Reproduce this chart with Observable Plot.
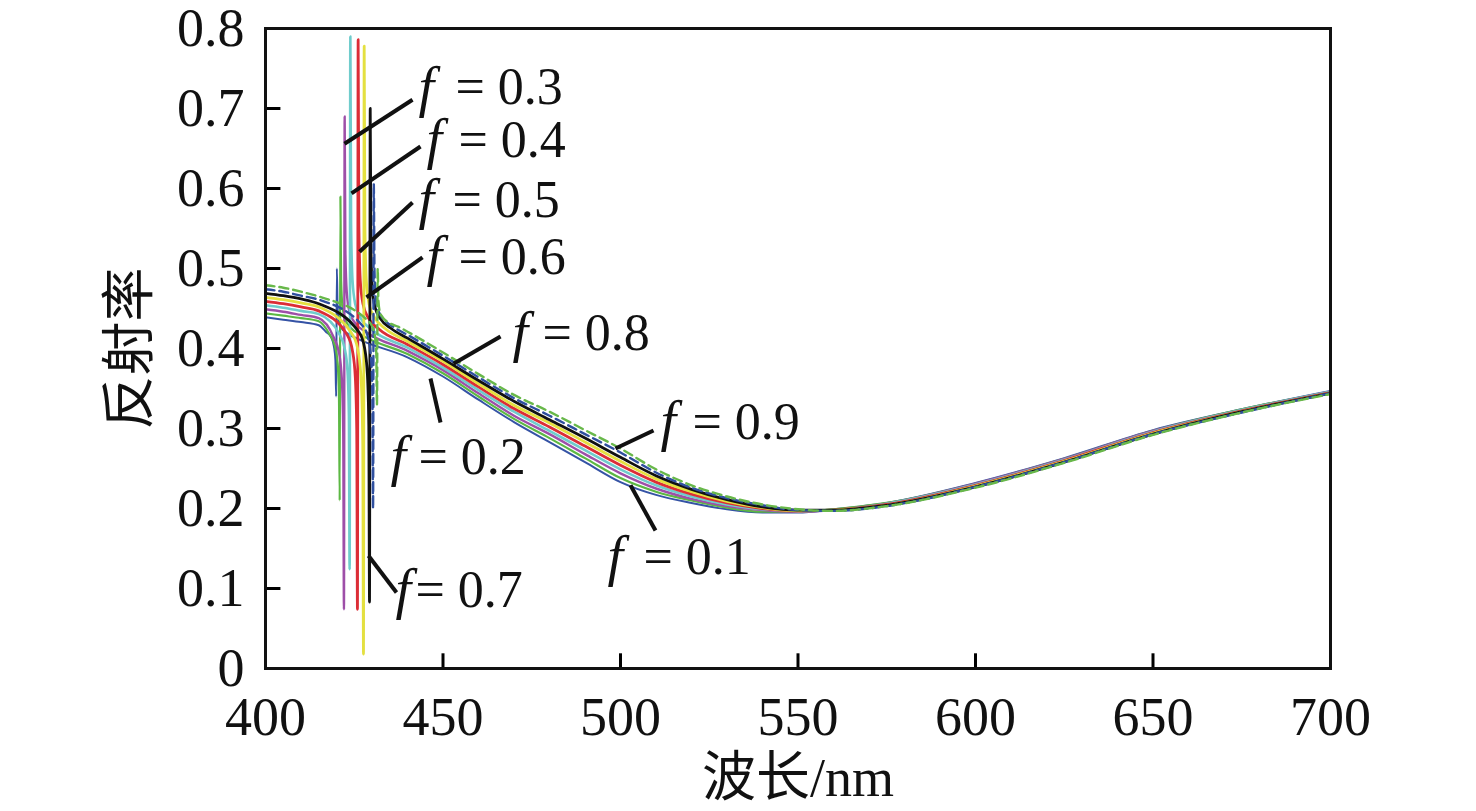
<!DOCTYPE html>
<html>
<head>
<meta charset="utf-8">
<script src="https://cdn.jsdelivr.net/npm/d3@7"></script>
<script src="https://cdn.jsdelivr.net/npm/@observablehq/plot@0.6"></script>
<style>
  html, body { margin: 0; padding: 0; background: #fff; }
  #chart { width: 1476px; height: 811px; }
</style>
</head>
<body>
<div id="chart"></div>
<script>
// ---------- data ----------
const fValues = ["0.1", "0.2", "0.3", "0.4", "0.5", "0.6", "0.7", "0.8", "0.9"];

// smooth part of each reflectance curve (wavelength grid, nm)
const wavelengths = [400, 405, 410, 415, 440, 450, 460, 470, 480, 490, 500, 510, 520, 530, 540, 550, 560, 575, 600, 625, 650, 675, 700];
const refl_f01 = [0.439,0.436,0.433,0.429,0.389,0.365,0.336,0.308,0.283,0.258,0.233,0.217,0.207,0.199,0.195,0.195,0.199,0.207,0.232,0.263,0.298,0.324,0.347];
const refl_f02 = [0.444,0.441,0.438,0.434,0.393,0.369,0.340,0.312,0.288,0.263,0.238,0.221,0.210,0.201,0.196,0.196,0.199,0.207,0.231,0.262,0.297,0.324,0.346];
const refl_f03 = [0.449,0.446,0.442,0.438,0.397,0.373,0.344,0.316,0.293,0.268,0.244,0.225,0.212,0.203,0.198,0.196,0.198,0.206,0.231,0.262,0.297,0.323,0.346];
const refl_f04 = [0.454,0.451,0.447,0.443,0.401,0.376,0.348,0.321,0.297,0.273,0.249,0.229,0.215,0.205,0.199,0.197,0.198,0.206,0.230,0.261,0.296,0.323,0.346];
const refl_f05 = [0.459,0.456,0.452,0.447,0.405,0.380,0.352,0.325,0.302,0.278,0.254,0.233,0.218,0.207,0.200,0.197,0.198,0.205,0.229,0.260,0.295,0.322,0.345];
const refl_f06 = [0.464,0.461,0.457,0.452,0.409,0.384,0.356,0.329,0.307,0.283,0.259,0.237,0.221,0.209,0.201,0.197,0.198,0.204,0.228,0.259,0.294,0.321,0.344];
const refl_f07 = [0.469,0.466,0.462,0.456,0.413,0.387,0.360,0.334,0.311,0.288,0.264,0.241,0.224,0.211,0.202,0.198,0.198,0.204,0.227,0.258,0.293,0.321,0.344];
const refl_f08 = [0.474,0.471,0.466,0.461,0.417,0.391,0.364,0.338,0.316,0.293,0.270,0.245,0.226,0.213,0.204,0.198,0.197,0.203,0.227,0.258,0.293,0.320,0.344];
const refl_f09 = [0.479,0.476,0.471,0.465,0.421,0.395,0.368,0.342,0.321,0.298,0.275,0.249,0.229,0.215,0.205,0.199,0.197,0.203,0.226,0.257,0.292,0.320,0.343];

// resonance region of each curve (wavelength, reflectance)
const resW_f01 = [417.0,418.5,419.3,419.7,419.9,420.1,420.3,420.7,421.5,423.0,426.0];
const resR_f01 = [0.421,0.414,0.402,0.385,0.340,0.500,0.452,0.434,0.425,0.419,0.412];
const resW_f02 = [418.0,419.5,420.3,420.7,420.9,421.1,421.3,421.7,422.5,424.0,427.0];
const resR_f02 = [0.418,0.404,0.382,0.340,0.210,0.590,0.485,0.452,0.436,0.426,0.417];
const resW_f03 = [419.2,420.7,421.5,421.9,422.1,422.3,422.5,422.9,423.7,425.2,428.2];
const resR_f03 = [0.414,0.395,0.362,0.295,0.074,0.690,0.522,0.470,0.445,0.432,0.421];
const resW_f04 = [420.8,422.3,423.1,423.5,423.7,423.9,424.1,424.5,425.3,426.8,429.8];
const resR_f04 = [0.418,0.400,0.372,0.315,0.124,0.790,0.556,0.486,0.455,0.438,0.424];
const resW_f05 = [423.0,424.5,425.3,425.7,425.9,426.1,426.3,426.7,427.5,429.0,432.0];
const resR_f05 = [0.417,0.397,0.364,0.298,0.074,0.786,0.555,0.485,0.455,0.438,0.424];
const resW_f06 = [424.7,426.2,427.0,427.4,427.6,427.8,428.0,428.4,429.2,430.7,433.7];
const resR_f06 = [0.416,0.394,0.356,0.280,0.018,0.778,0.553,0.485,0.455,0.439,0.425];
const resW_f07 = [426.4,427.9,428.7,429.1,429.3,429.5,429.7,430.1,430.9,432.4,435.4];
const resR_f07 = [0.420,0.401,0.368,0.303,0.083,0.700,0.528,0.474,0.451,0.437,0.425];
const resW_f08 = [427.4,428.9,429.7,430.1,430.3,430.5,430.7,431.1,431.9,433.4,436.4];
const resR_f08 = [0.428,0.413,0.390,0.345,0.200,0.606,0.497,0.462,0.446,0.436,0.426];
const resW_f09 = [428.5,430.0,430.8,431.2,431.4,431.6,431.8,432.2,433.0,434.5,437.5];
const resR_f09 = [0.436,0.428,0.416,0.395,0.330,0.500,0.460,0.446,0.439,0.433,0.427];

// axis ticks
const xTicks = [400, 450, 500, 550, 600, 650, 700];
const yTicks = [0, 0.1, 0.2, 0.3, 0.4, 0.5, 0.6, 0.7, 0.8];
const yTickLabels = ["0", "0.1", "0.2", "0.3", "0.4", "0.5", "0.6", "0.7", "0.8"];
const xLabel = "波长/nm";
const yLabel = "反射率";

// annotation labels: f text anchor, "= value" anchor, leader line ends (data units)
const labelF     = ["0.1","0.2","0.3","0.4","0.5","0.6","0.7","0.8","0.9"];
const labelFx    = [496.34,435.21,443.10,445.35,443.10,445.35,436.62,469.58,511.27];
const labelEqx   = [506.48,443.10,453.52,454.37,452.68,454.37,442.25,478.03,520.28];
const labelY     = [0.139,0.264,0.726,0.660,0.585,0.514,0.0975,0.419,0.3075];
const leadX1 = [509.86,449.30,441.41,443.66,441.41,444.23,436.90,466.20,509.30];
const leadY1 = [0.1725,0.3075,0.711,0.6525,0.5825,0.514,0.095,0.415,0.2975];
const leadX2 = [502.82,446.48,422.25,424.23,426.48,428.45,429.01,452.96,498.59];
const leadY2 = [0.229,0.3625,0.656,0.594,0.521,0.464,0.141,0.381,0.275];

// ---------- build tables ----------
const smooth = [refl_f01,refl_f02,refl_f03,refl_f04,refl_f05,refl_f06,refl_f07,refl_f08,refl_f09];
const resW = [resW_f01,resW_f02,resW_f03,resW_f04,resW_f05,resW_f06,resW_f07,resW_f08,resW_f09];
const resR = [resR_f01,resR_f02,resR_f03,resR_f04,resR_f05,resR_f06,resR_f07,resR_f08,resR_f09];

const seriesData = fValues.map((f, i) => {
  const pts = wavelengths.map((w, j) => ({w, r: smooth[i][j], f}))
    .concat(resW[i].map((w, j) => ({w, r: resR[i][j], f})));
  pts.sort((a, b) => a.w - b.w);
  return pts;
});

const styles = [
  {stroke: "#3553a5", strokeWidth: 2.0},
  {stroke: "#5cb843", strokeWidth: 2.2},
  {stroke: "#9e4fa8", strokeWidth: 2.4},
  {stroke: "#6fcccc", strokeWidth: 2.6},
  {stroke: "#dc2d36", strokeWidth: 2.8},
  {stroke: "#e4e040", strokeWidth: 2.8},
  {stroke: "#111111", strokeWidth: 2.8},
  {stroke: "#2f4f9f", strokeWidth: 2.4, strokeDasharray: "9,5"},
  {stroke: "#68b84a", strokeWidth: 2.4, strokeDasharray: "9,5"}
];

const labels = labelF.map((f, i) => ({
  f, fx: labelFx[i], ex: labelEqx[i], y: labelY[i],
  x1: leadX1[i], y1: leadY1[i], x2: leadX2[i], y2: leadY2[i]
}));

const innerYTicks = yTicks.filter(v => v > 0 && v < 0.8);
const innerXTicks = xTicks.filter(v => v > 400 && v < 700);

const serif = "'Liberation Serif', 'Times New Roman', serif";
const mixed = "'Liberation Serif', 'Noto Sans CJK SC', serif";

const marks = [];
seriesData.forEach((d, i) => {
  marks.push(Plot.line(d, {x: "w", y: "r", curve: "monotone-x", strokeLinejoin: "round", clip: true, ...styles[i]}));
});
marks.push(
  Plot.link(innerYTicks, {x1: 400, x2: 404.2, y1: d => d, y2: d => d, stroke: "black", strokeWidth: 3}),
  Plot.link(innerXTicks, {x1: d => d, x2: d => d, y1: 0, y2: 0.019, stroke: "black", strokeWidth: 3}),
  Plot.frame({stroke: "#111", strokeWidth: 3}),
  Plot.axisX({ticks: xTicks, tickSize: 0, tickPadding: 28, fontSize: 54, fontFamily: serif, label: null, tickFormat: d => String(d)}),
  Plot.axisY({ticks: yTicks, tickSize: 0, tickPadding: 21, fontSize: 54, fontFamily: serif, label: null,
    tickFormat: d => yTickLabels[yTicks.indexOf(d)] ?? ""}),
  Plot.link(labels, {x1: "x1", y1: "y1", x2: "x2", y2: "y2", stroke: "#111", strokeWidth: 4}),
  Plot.text(labels, {x: "fx", y: "y", text: () => "f", textAnchor: "start", fontSize: 56, fontFamily: serif, fontStyle: "italic", fill: "#111"}),
  Plot.text(labels, {x: "ex", y: "y", text: d => "= " + d.f, textAnchor: "start", fontSize: 52, fontFamily: serif, fill: "#111"}),
  Plot.text([xLabel], {frameAnchor: "bottom", lineAnchor: "middle", textAnchor: "middle", dy: 110, text: d => d, fontSize: 54, fontFamily: mixed, fill: "#111"}),
  Plot.text([yLabel], {frameAnchor: "left", lineAnchor: "middle", textAnchor: "middle", dx: -135, rotate: -90, text: d => d, fontSize: 54, fontFamily: mixed, fill: "#111"})
);

const chart = Plot.plot({
  width: 1476,
  height: 811,
  marginLeft: 265,
  marginRight: 146,
  marginTop: 28,
  marginBottom: 143,
  style: {background: "#fff", color: "#111", overflow: "visible"},
  x: {domain: [400, 700], axis: null},
  y: {domain: [0, 0.8], axis: null},
  marks
});
document.getElementById("chart").appendChild(chart);
</script>
</body>
</html>
